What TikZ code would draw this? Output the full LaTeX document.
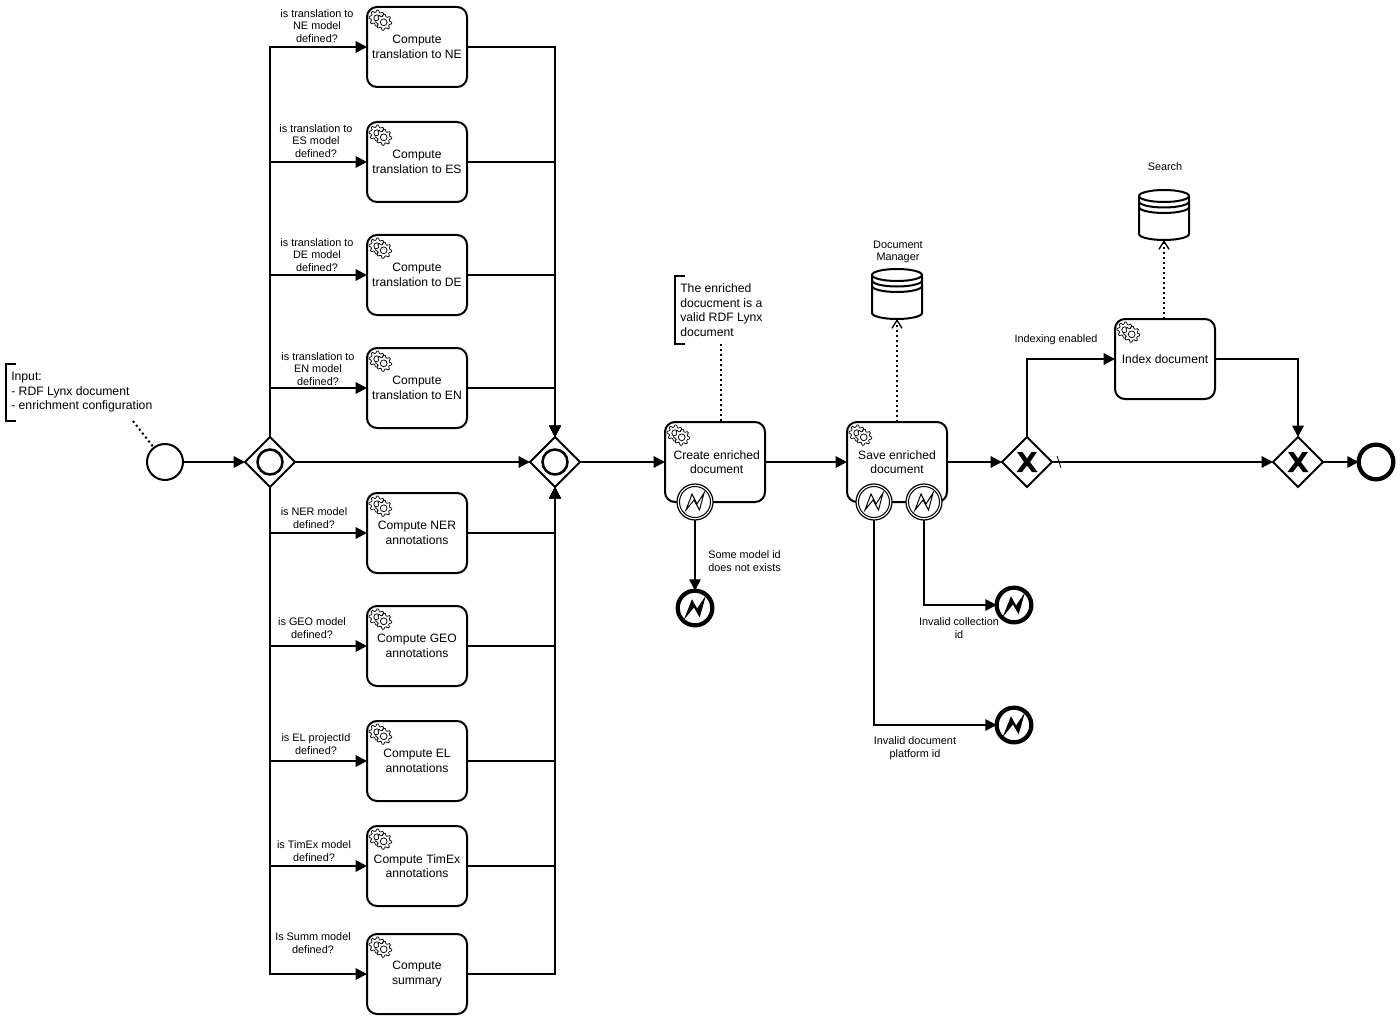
\documentclass[tikz,border=0pt]{standalone}
\usepackage{fontspec}
\setmainfont{Liberation Sans}
\usetikzlibrary{arrows.meta,shapes.geometric}
\tikzset{
  x=0.75pt,y=-0.75pt,
  flow/.style={line width=1.5pt,-{Triangle[length=8.5pt,width=8.5pt]}},
  assoc/.style={line width=1.5pt,dash pattern=on 1.5pt off 2.25pt},
  assocarrow/.style={assoc,-{Straight Barb[length=6pt,width=7.5pt,line width=1pt,sep=0pt]}},
  taskbox/.style={draw,line width=1.5pt,rounded corners=7.5pt,minimum width=75pt,minimum height=60pt,inner sep=0pt,outer sep=0pt,fill=white,align=center,font=\fontsize{9.1}{10.9}\selectfont},
  gatebox/.style={draw,diamond,shape aspect=1,line width=1.5pt,minimum width=37.5pt,minimum height=37.5pt,inner sep=0pt,outer sep=0pt,fill=white},
  startev/.style={draw,circle,line width=1.5pt,minimum size=27pt,inner sep=0pt,outer sep=0pt,fill=white},
  endev/.style={draw,circle,line width=3.2pt,minimum size=26pt,inner sep=0pt,outer sep=0pt,fill=white},
  boundev/.style={draw,circle,line width=0.9pt,minimum size=27pt,inner sep=0pt,outer sep=0pt,fill=white},
  small/.style={align=center,inner sep=0pt,font=\fontsize{8.15}{9.5}\selectfont},
  smallleft/.style={small,align=left,anchor=west},
  annot/.style={align=left,anchor=west,inner sep=0pt,font=\fontsize{9.15}{10.9}\selectfont},
  bracket/.style={line width=1.2pt},
  gears/.pic={
    \foreach \cx/\cy/\ro/\ri/\rc in {10/11/8/6/3.2,16.7/15.3/8/6/3.4}{
      \draw[line width=0.55pt,fill=white] plot[samples at={0,11.25,...,348.75},variable=\a]
        ({\cx+(mod(\a+5,45)<22.5?\ro:\ri)*cos(\a)},{\cy+(mod(\a+5,45)<22.5?\ro:\ri)*sin(\a)}) -- cycle;
      \draw[line width=0.55pt,fill=white] (\cx,\cy) circle[radius=\rc];
    }
  },
  boltopen/.pic={
    \draw[line width=0.75pt,fill=white] (0,0) circle[radius=15.5];
    \draw[line width=0.75pt,line join=miter] (-9,8)--(-3,-8)--(2,2)--(9,-9)--(4.5,8)--(-1,-2)--cycle;
  },
  boltfilled/.pic={
    \filldraw[line width=0.8pt,line join=miter] (-9.5,9)--(-3,-7.5)--(2,1.5)--(9.5,-9.5)--(4.5,8)--(-1,-1.5)--cycle;
  },
  xmark/.pic={
    \fill (-10,-10)--(-4.5,-10)--(0,-3.5)--(4.5,-10)--(10,-10)--(3,0)--(10.5,10)--(5,10)--(0,3.5)--(-5,10)--(-10.5,10)--(-3,0)--cycle;
  },
  ringmark/.pic={
    \draw[line width=1.9pt] (0,0) circle[radius=12.5];
  },
  database/.pic={
    \draw[line width=1.5pt,fill=white] (-25,-19) -- (-25,19) arc[start angle=180,end angle=0,x radius=25,y radius=6] -- (25,-19);
    \draw[line width=1.5pt,fill=white] (0,-19) ellipse[x radius=25,y radius=6];
    \draw[line width=1.5pt] (-25,-13.5) arc[start angle=180,end angle=0,x radius=25,y radius=6];
    \draw[line width=1.5pt] (-25,-8) arc[start angle=180,end angle=0,x radius=25,y radius=6];
  }
}
\newcommand{\taskat}[4]{\node[taskbox] (#1) at (#2,#3) {#4}; \pic at (#1.north west) {gears};}
\begin{document}
\begin{tikzpicture}
\path[fill=white,use as bounding box] (0,0) rectangle (1400,1020);

% tasks
\taskat{tne}{417}{47}{Compute\\translation to NE}
\taskat{tes}{417}{162}{Compute\\translation to ES}
\taskat{tde}{417}{275}{Compute\\translation to DE}
\taskat{ten}{417}{388}{Compute\\translation to EN}
\taskat{tner}{417}{533}{Compute NER\\annotations}
\taskat{tgeo}{417}{646}{Compute GEO\\annotations}
\taskat{tel}{417}{761}{Compute EL\\annotations}
\taskat{ttim}{417}{866}{Compute TimEx\\annotations}
\taskat{tsum}{417}{974}{Compute\\summary}
\taskat{create}{715}{462}{\hspace*{2.5pt}Create enriched\\\hspace*{2.5pt}document}
\taskat{save}{897}{462}{Save enriched\\document}
\taskat{index}{1165}{359}{Index document}

% events and gateways
\node[startev] (start) at (165,462) {};
\node[gatebox] (g1) at (270,462) {}; \pic at (g1) {ringmark};
\node[gatebox] (g2) at (555,462) {}; \pic at (g2) {ringmark};
\node[gatebox] (gx) at (1027,462) {}; \pic at (gx) {xmark};
\node[gatebox] (gy) at (1298,462) {}; \pic at (gy) {xmark};
\node[endev] (finish) at (1376,462) {};
\node[boundev] (bcreate) at (695,502) {}; \pic at (bcreate) {boltopen};
\node[boundev] (bsavea) at (874,502) {}; \pic at (bsavea) {boltopen};
\node[boundev] (bsaveb) at (924,502) {}; \pic at (bsaveb) {boltopen};
\node[endev] (ecreate) at (695,608) {}; \pic at (ecreate) {boltfilled};
\node[endev] (ecoll) at (1014,605) {}; \pic at (ecoll) {boltfilled};
\node[endev] (edoc) at (1014,725) {}; \pic at (edoc) {boltfilled};

% data stores
\node[minimum width=37.5pt,minimum height=37.5pt,inner sep=0pt,outer sep=0pt] (dbman) at (897,294) {}; \pic at (dbman) {database};
\node[minimum width=37.5pt,minimum height=37.5pt,inner sep=0pt,outer sep=0pt] (dbsearch) at (1164,215) {}; \pic at (dbsearch) {database};

% sequence flows
\draw[flow] (start) -- (g1);
\draw[flow] (g1) -- (g2);
\foreach \t in {tne,tes,tde,ten} {
  \draw[flow] (g1.north) |- (\t.west);
  \draw[flow] (\t.east) -| (g2.north);
}
\foreach \t in {tner,tgeo,tel,ttim,tsum} {
  \draw[flow] (g1.south) |- (\t.west);
  \draw[flow] (\t.east) -| (g2.south);
}
\draw[flow] (g2) -- (create);
\draw[flow] (create) -- (save);
\draw[flow] (save) -- (gx);
\draw[flow] (gx.north) |- (index.west);
\draw[flow] (index.east) -| (gy.north);
\draw[flow] (gx) -- (gy);
\draw[flow] (gy) -- (finish);
\draw[flow] (bcreate) -- (ecreate);
\draw[flow] (bsaveb.south) |- (ecoll.west);
\draw[flow] (bsavea.south) |- (edoc.west);
\coordinate (defa) at (1057,456);
\coordinate (defb) at (1061,468);
\draw[line width=0.6pt] (defa) -- (defb);

% associations
\coordinate (cinput) at (133,421);
\coordinate (cann) at (721,344);
\draw[assoc] (cinput) -- (start);
\draw[assoc] (cann) -- (cann |- create.north);
\draw[assocarrow] (save.north) -- (dbman.south);
\draw[assocarrow] (dbsearch.south |- index.north) -- (dbsearch.south);

% annotations
\coordinate (ba) at (6,364); \coordinate (bb) at (6,421);
\draw[bracket] (16,364) -- (ba) -- (bb) -- (16,421);
\node[annot] (inputtext) at (11,392.5) {Input:\\- RDF Lynx document\\- enrichment configuration};
\coordinate (bc) at (675,276); \coordinate (bd) at (675,344);
\draw[bracket] (685,276) -- (bc) -- (bd) -- (685,344);
\node[annot] (anntext) at (680,310) {The enriched\\docucment is a\\valid RDF Lynx\\document};

% labels
\node[small] (l1) at (317,26) {is translation to\\NE model\\defined?};
\node[small] (l2) at (316,141) {is translation to\\ES model\\defined?};
\node[small] (l3) at (317,255) {is translation to\\DE model\\defined?};
\node[small] (l4) at (318,369) {is translation to\\EN model\\defined?};
\node[small] (l5) at (314,518) {is NER model\\defined?};
\node[small] (l6) at (312,628) {is GEO model\\defined?};
\node[small] (l7) at (316,744) {is EL projectId\\defined?};
\node[small] (l8) at (314,851) {is TimEx model\\defined?};
\node[small] (l9) at (313,943) {Is Summ model\\defined?};
\node[smallleft] (l10) at (708,561) {Some model id\\does not exists};
\node[small] (l11) at (959,628) {Invalid collection\\id};
\node[small] (l12) at (915,748) {Invalid document\\platform id};
\node[small] (l13) at (1056,340) {Indexing enabled};
\node[small] (l14) at (1165,166.5) {Search};
\node[small] (l15) at (898,252) {Document\\Manager};
\end{tikzpicture}
\end{document}
